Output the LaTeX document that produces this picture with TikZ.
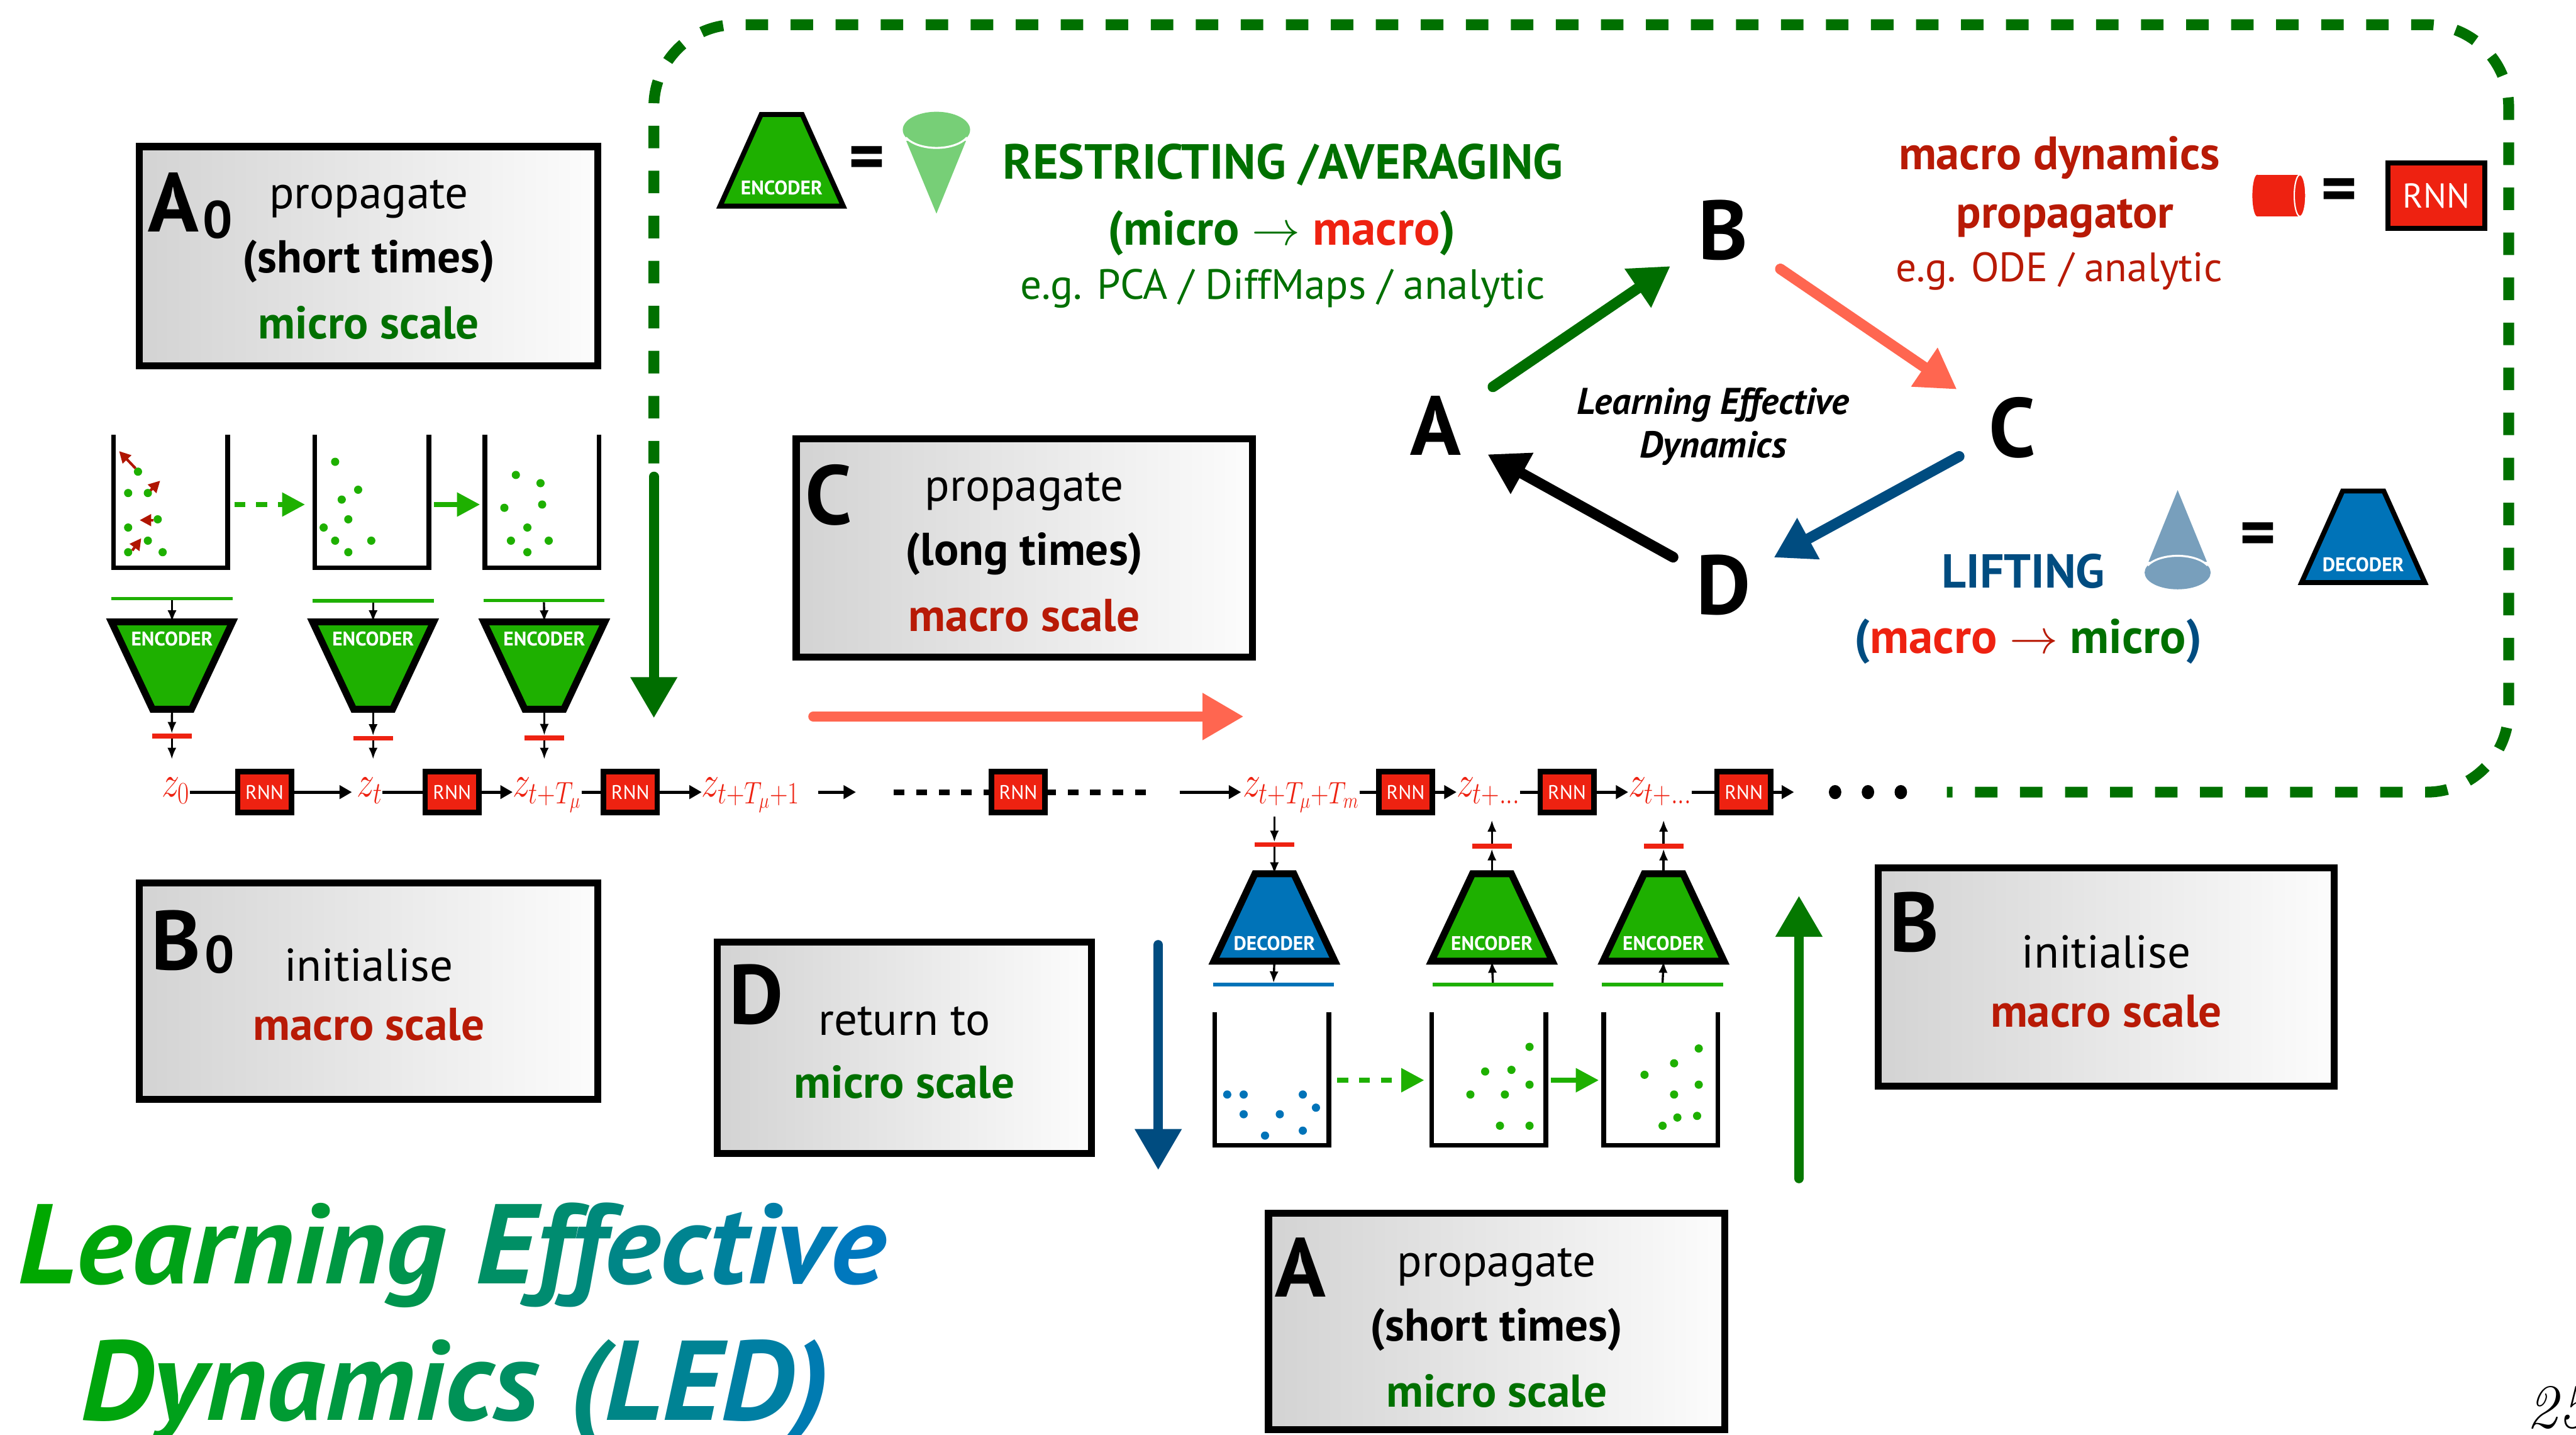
\RequirePackage{fix-cm}
\documentclass[tikz,border=0pt]{standalone}
\usepackage[no-math]{fontspec}
\setmainfont{PT Sans}
\usetikzlibrary{arrows.meta,calc}

\definecolor{dotgreen}{HTML}{1EB000}
\definecolor{txtgreen}{HTML}{007000}
\definecolor{arrgreen}{HTML}{006E00}
\definecolor{rnnred}{HTML}{EE2211}
\definecolor{darkred}{HTML}{B81A06}
\definecolor{velred}{HTML}{B01500}
\definecolor{decblue}{HTML}{0073B8}
\definecolor{liftblue}{HTML}{004C80}
\definecolor{salmon}{HTML}{FF6650}
\definecolor{conegreen}{HTML}{77CF77}
\definecolor{coneblue}{HTML}{789FBC}
\definecolor{boxgray}{HTML}{D3D3D3}
\definecolor{boxwhite}{HTML}{FCFCFC}
\definecolor{titleG}{HTML}{00A800}
\definecolor{titleB}{HTML}{0078BE}

\newcommand\fsz[1]{\fontsize{#1}{#1}\selectfont}
\newcommand\gc[2]{\textcolor{titleB!#1!titleG}{#2}}
\newcommand\zl[1]{\scalebox{0.8}[1]{$#1$}}

% particle box: open-topped container
\newcommand\drawbin[3]{%
  \node[binframe] (#1) at (#2,#3) {};
  \draw[binwall] (#1.north west) -- (#1.south west) -- (#1.south east) -- (#1.north east);
}
% encoder / decoder trapezia
\newcommand\coderWideTop[5]{%
  \node[coderframe] (#1) at (#2,#3) {};
  \filldraw[coderedge, fill=#4] (#1.north west) -- (#1.north east)
     -- ($(#1.south east)+(-25,0)$) -- ($(#1.south west)+(25,0)$) -- cycle;
  \node[codertext] at ($(#1.north)+(0,10.5)$) {#5};
}
\newcommand\coderWideBottom[5]{%
  \node[coderframe] (#1) at (#2,#3) {};
  \filldraw[coderedge, fill=#4] ($(#1.north west)+(25,0)$) -- ($(#1.north east)+(-25,0)$)
     -- (#1.south east) -- (#1.south west) -- cycle;
  \node[codertext] at ($(#1.south)+(0,-11)$) {#5};
}

\begin{document}
\begin{tikzpicture}[x=1pt, y=-1pt,
  every node/.style={inner sep=0pt, outer sep=0pt},
  txt/.style={anchor=base},
  infobox/.style={draw=black, line width=4.3pt, left color=boxgray, right color=boxwhite},
  binframe/.style={minimum width=69.4pt, minimum height=79.6pt},
  binwall/.style={line width=2.8pt, line cap=rect, line join=miter},
  coderframe/.style={minimum width=69.5pt, minimum height=49pt, outer sep=2.1pt},
  coderedge/.style={draw=black, line width=4.2pt, line join=miter},
  codertext/.style={text=white, font=\fsz{12}\bfseries},
  gline/.style={fill=dotgreen, minimum width=73.7pt, minimum height=2.2pt},
  bline/.style={fill=decblue, minimum width=73.7pt, minimum height=2.2pt},
  rbar/.style={fill=rnnred, minimum width=24pt, minimum height=3pt},
  smallarrow/.style={line width=1.3pt, -{Latex[length=7pt,width=5.5pt]}},
  rnn/.style={draw=black, line width=3.3pt, fill=rnnred, text=white, font=\fsz{12},
    minimum width=32.7pt, minimum height=24.8pt},
  zlab/.style={text=rnnred, anchor=base, font=\fsz{27}, text height=12pt, text depth=8pt},
  chainline/.style={line width=2pt},
  chainarrow/.style={line width=2pt, -{Triangle[length=7.5pt,width=8pt]}},
  dotchain/.style={line width=3.5pt, dash pattern=on 6.5pt off 7.2pt},
  binarrow/.style={dotgreen, line width=3.1pt, -{Triangle[length=14pt,width=14pt]}},
  redarrow/.style={velred, line width=1.6pt, -{Triangle[length=7pt,width=7pt]}},
  bigarrow/.style={line width=6pt, line cap=round, -{Triangle[length=25pt,width=27pt]}},
  diagarrow/.style={line width=6.5pt, line cap=round, -{Triangle[length=24pt,width=27pt]}},
  bigletter/.style={anchor=base, font=\fsz{51}\bfseries},
  boxletter/.style={anchor=base west, font=\fsz{51}\bfseries},
  boxsub/.style={anchor=base west, font=\fsz{32}\bfseries},
  boxtext/.style={anchor=base, font=\fsz{28}},
  boxbold/.style={anchor=base, font=\fsz{28}\bfseries},
  eqsign/.style={font=\fsz{42}\bfseries}
]
\useasboundingbox (0,0) rectangle (1568,873);

% ---------------- dashed learning loop ----------------
\draw[txtgreen, line width=6.6pt, dash pattern=on 13.7pt off 13.7pt, rounded corners=50pt]
  (398,282) -- (398,15) -- (1527,15) -- (1527,482) -- (1185,482);

% ---------------- info boxes ----------------
\node[infobox, minimum width=279pt, minimum height=133.4pt] (boxAzero) at (224.25,155.85) {};
\node[boxletter] at (90,141) {A};
\node[boxsub] at (123.5,144.7) {0};
\node[boxtext] at (224.5,127) {propagate};
\node[boxbold] at (224.5,166) {(short times)};
\node[boxbold, text=txtgreen] at (224.5,206) {micro scale};

\node[infobox, minimum width=279pt, minimum height=131.7pt] (boxBzero) at (224.25,603) {};
\node[boxletter] at (92,590) {B};
\node[boxsub] at (124.5,592) {0};
\node[boxtext] at (224.5,597) {initialise};
\node[boxbold, text=darkred] at (224.5,633) {macro scale};

\node[infobox, minimum width=277.7pt, minimum height=132.7pt] (boxC) at (623.5,333.5) {};
\node[boxletter] at (490,319) {C};
\node[boxtext] at (623.5,305) {propagate};
\node[boxbold] at (623.5,344) {(long times)};
\node[boxbold, text=darkred] at (623.5,384) {macro scale};

\node[infobox, minimum width=227.7pt, minimum height=128.7pt] (boxD) at (550.5,637.5) {};
\node[boxletter] at (444,623) {D};
\node[boxtext] at (550.5,630) {return to};
\node[boxbold, text=txtgreen] at (550.5,668) {micro scale};

\node[infobox, minimum width=277.7pt, minimum height=132.7pt] (boxB) at (1282,594.5) {};
\node[boxletter] at (1150,579) {B};
\node[boxtext] at (1282,589) {initialise};
\node[boxbold, text=darkred] at (1282,625) {macro scale};

\node[infobox, minimum width=277.7pt, minimum height=131.7pt] (boxA) at (911,804) {};
\node[boxletter] at (776,789) {A};
\node[boxtext] at (911,777) {propagate};
\node[boxbold] at (911,816) {(short times)};
\node[boxbold, text=txtgreen] at (911,856) {micro scale};

% ---------------- micro particle boxes (top left) ----------------
\drawbin{binA}{103.9}{305.6}
\drawbin{binB}{226.4}{305.6}
\drawbin{binC}{329.9}{305.6}
\foreach \p in {(84,287),(78,300),(90,300),(96,316),(78,321),(90,329),(78,336),(99,336)}
  \fill[dotgreen] \p circle[radius=2.5];
\foreach \p in {(204,281),(218,298),(208,304),(212,316),(197,321),(204,329),(226,329),(212,336)}
  \fill[dotgreen] \p circle[radius=2.5];
\foreach \p in {(314,289),(329,294),(330,307),(307,309),(321,321),(311,329),(334,329),(321,336)}
  \fill[dotgreen] \p circle[radius=2.5];
\draw[redarrow] (82.5,285) -- (72.5,274.5);
\draw[redarrow] (91.5,298.5) -- (97.5,292.5);
\draw[redarrow] (93.5,316.5) -- (85,316.5);
\draw[redarrow] (80.5,335) -- (86,327.5);
\draw[binarrow, dash pattern=on 6.7pt off 6.6pt] ($(binA.east)+(4,1.4)$) -- ($(binB.west)+(-6,1.4)$);
\draw[binarrow] ($(binB.east)+(3,1.4)$) -- ($(binC.west)+(-3,1.4)$);

% encoders on the top row
\node[gline] (glA) at (104.7,364.2) {};
\node[gline] (glB) at (227.1,365.5) {};
\node[gline] (glC) at (331.1,365.4) {};
\coderWideTop{encA}{104.7}{405}{dotgreen}{ENCODER}
\coderWideTop{encB}{227.1}{405}{dotgreen}{ENCODER}
\coderWideTop{encC}{331.3}{405}{dotgreen}{ENCODER}
\node[rbar] (barA) at (104.6,447.8) {};
\node[rbar] (barB) at (227.1,449.2) {};
\node[rbar] (barC) at (331.3,449) {};

% ---------------- latent chain ----------------
\node[zlab] (zzero) at (107,485) {\zl{z_0}};
\node[zlab] (zt) at (225,485) {\zl{z_t}};
\node[zlab] (zT) at (333,485) {\zl{z_{t{+}T_\mu}}};
\node[zlab] (zTone) at (457,485) {\zl{z_{t{+}T_\mu{+}1}}};
\node[zlab] (zTm) at (792,485) {\zl{z_{t{+}T_\mu{+}T_m}}};
\node[zlab] (zdA) at (906,485) {\zl{z_{t{+}\ldots}}};
\node[zlab] (zdB) at (1010.5,485) {\zl{z_{t{+}\ldots}}};

\node[rnn] (rA) at (161,482) {RNN};
\node[rnn] (rB) at (275.2,482) {RNN};
\node[rnn] (rC) at (383.7,482) {RNN};
\node[rnn] (rD) at (619.8,482) {RNN};
\node[rnn] (rE) at (855.6,482) {RNN};
\node[rnn] (rF) at (953.8,482) {RNN};
\node[rnn] (rG) at (1061.4,482) {RNN};

\coordinate (gapAs) at (498,482);
\coordinate (gapAe) at (521,482);
\coordinate (dotAs) at (544,482);
\coordinate (dotBe) at (699,482);
\coordinate (gapBs) at (718,482);
\coordinate (chainEnd) at (1092,482);

\draw[chainline] (zzero.east |- rA) -- (rA.west);
\draw[chainarrow] (rA.east) -- ($(zt.west |- rA)+(-3,0)$);
\draw[chainline] (zt.east |- rB) -- (rB.west);
\draw[chainarrow] (rB.east) -- (zT.west |- rB);
\draw[chainline] (zT.east |- rC) -- (rC.west);
\draw[chainarrow] (rC.east) -- (zTone.west |- rC);
\draw[chainarrow] (gapAs) -- (gapAe);
\draw[dotchain] (dotAs) -- (rD.west);
\draw[dotchain] (rD.east) -- (dotBe);
\draw[chainarrow] (gapBs) -- ($(zTm.west |- rD)+(-1,0)$);
\draw[chainline] (zTm.east |- rE) -- (rE.west);
\draw[chainarrow] (rE.east) -- (zdA.west |- rE);
\draw[chainline] (zdA.east |- rF) -- (rF.west);
\draw[chainarrow] (rF.east) -- (zdB.west |- rF);
\draw[chainline] (zdB.east |- rG) -- (rG.west);
\draw[chainarrow] (rG.east) -- (chainEnd);
\foreach \x in {1117,1137,1157} \fill (\x,482) ellipse[x radius=3.8, y radius=4.3];

% top row arrows into the chain
\draw[smallarrow] (glA.south) -- (encA.north);
\draw[smallarrow] (glB.south) -- (encB.north);
\draw[smallarrow] (glC.south) -- (encC.north);
\draw[smallarrow] (encA.south) -- (barA.north);
\draw[smallarrow] (encB.south) -- (barB.north);
\draw[smallarrow] (encC.south) -- (barC.north);
\draw[smallarrow, shorten >=11pt] (barA.south) -- (barA.south |- zzero.north);
\draw[smallarrow, shorten >=11pt] (barB.south) -- (barB.south |- zt.north);
\draw[smallarrow, shorten >=11pt] (barC.south) -- (barC.south |- zT.north);

% ---------------- bottom row: decoder and encoders ----------------
\node[rbar] (dbarA) at (775.7,513.9) {};
\node[rbar] (dbarB) at (908.1,515) {};
\node[rbar] (dbarC) at (1012.6,515) {};
\coderWideBottom{decA}{775.7}{558.3}{decblue}{DECODER}
\coderWideBottom{encD}{908.1}{558.3}{dotgreen}{ENCODER}
\coderWideBottom{encE}{1012.6}{558.3}{dotgreen}{ENCODER}
\node[bline] (blA) at (775.2,599.2) {};
\node[gline] (glD) at (908.7,599) {};
\node[gline] (glE) at (1012,599) {};

\draw[smallarrow, shorten <=4pt] (decA |- zTm.south) -- (dbarA.north);
\draw[smallarrow] (dbarA.south) -- (decA.north);
\draw[smallarrow] (decA.south) -- (blA.north);
\draw[smallarrow] (glD.north) -- (encD.south);
\draw[smallarrow] (glE.north) -- (encE.south);
\draw[smallarrow] (encD.north) -- (dbarB.south);
\draw[smallarrow] (encE.north) -- (dbarC.south);
\draw[smallarrow, shorten >=6pt] (dbarB.north) -- (encD |- zdA.south);
\draw[smallarrow, shorten >=6pt] (dbarC.north) -- (encE |- zdB.south);

\drawbin{binD}{774.2}{657.1}
\drawbin{binE}{906.2}{657.1}
\drawbin{binF}{1010.9}{657.1}
\foreach \p in {(747,666),(757,666),(793,666),(801,674),(757,678),(779,678),(770,691),(793,688)}
  \fill[decblue] \p circle[radius=2.5];
\foreach \p in {(931,637),(904,652),(920,651),(931,660),(895,666),(916,666),(913,685),(931,685)}
  \fill[dotgreen] \p circle[radius=2.5];
\foreach \p in {(1034,638),(1019,647),(1001,654),(1034,660),(1019,666),(1021,680),(1033,679),(1012,685)}
  \fill[dotgreen] \p circle[radius=2.5];
\draw[binarrow, dash pattern=on 6.7pt off 6.6pt] ($(binD.east)+(5,0.2)$) -- ($(binE.west)+(-4.6,0.2)$);
\draw[binarrow] ($(binE.east)+(3,0.2)$) -- ($(binF.west)+(-3,0.2)$);

% ---------------- big process arrows ----------------
\coordinate (restrictS) at (398,290);
\coordinate (restrictE) at (398,437);
\coordinate (longS) at (495,436);
\coordinate (longE) at (757,436);
\coordinate (liftS) at (705,575);
\coordinate (liftE) at (705,712);
\coordinate (initS) at (1095,717);
\coordinate (initE) at (1095,545);
\draw[bigarrow, arrgreen] (restrictS) -- (restrictE);
\draw[bigarrow, salmon] (longS) -- (longE);
\draw[bigarrow, liftblue] (liftS) -- (liftE);
\draw[bigarrow, arrgreen!85!dotgreen] (initS) -- (initE);

% ---------------- legend: restricting ----------------
\begin{scope}[coderframe/.append style={minimum width=72pt, minimum height=52.7pt, outer sep=1.5pt},
              coderedge/.append style={line width=3pt}]
  \coderWideBottom{encIcon}{475.8}{97.55}{dotgreen}{ENCODER}
  \coderWideBottom{decIcon}{1438.45}{326.6}{decblue}{DECODER}
\end{scope}
\node[eqsign] (eqA) at (527.5,99.4) {=};
\fill[conegreen] (551.6,85.7) -- (570,130) -- (588,85.7) -- cycle;
\fill[conegreen] (570,79) ellipse[x radius=20.5, y radius=11];
\draw[white, line width=1.2pt] ([shift={(25:20.5 and 11)}]570,79) arc[start angle=25, end angle=155, x radius=20.5, y radius=11];

\node[txt, text=txtgreen, font=\fsz{30}\bfseries] at (781,108.9) {RESTRICTING /AVERAGING};
\node[txt, font=\fsz{29.5}\bfseries] at (780.2,149)
  {\textcolor{txtgreen}{(micro \ensuremath{\rightarrow}} \textcolor{rnnred}{macro}\textcolor{txtgreen}{)}};
\node[txt, text=txtgreen, font=\fsz{25.7}] at (780.8,182.2) {e.g. PCA / DiffMaps / analytic};

% ---------------- legend: propagator ----------------
\node[txt, text=darkred, font=\fsz{28.5}\bfseries] at (1253.5,103) {macro dynamics};
\node[txt, text=darkred, font=\fsz{28}\bfseries] at (1257,138.8) {propagator};
\node[txt, text=darkred, font=\fsz{25}] at (1253.4,171.2) {e.g. ODE / analytic};
\fill[rnnred] (1374,106.3) rectangle (1400,131.7);
\fill[rnnred] (1374,119) ellipse[x radius=3, y radius=12.7];
\filldraw[rnnred, draw=white, line width=0.8pt] (1400,119) ellipse[x radius=3.5, y radius=12.7];
\node[eqsign] (eqB) at (1424,119) {=};
\node[rnn, minimum width=58.9pt, minimum height=39.8pt, line width=3.2pt, font=\fsz{21}] (rnnIcon) at (1483,119) {RNN};

% ---------------- legend: lifting ----------------
\node[txt, text=liftblue, font=\fsz{29}\bfseries] at (1231.6,357.6) {LIFTING};
\fill[coneblue] (1307.8,341.8) -- (1325.5,298.2) -- (1343.3,341.8) -- cycle;
\fill[coneblue] (1325.5,348.4) ellipse[x radius=20.1, y radius=10.2];
\draw[white, line width=1.2pt] ([shift={(205:20.1 and 10.2)}]1325.5,348.4) arc[start angle=205, end angle=335, x radius=20.1, y radius=10.2];
\node[eqsign] (eqC) at (1374.6,328.4) {=};
\node[txt, font=\fsz{29.5}\bfseries] at (1234.5,397.6)
  {\textcolor{liftblue}{(}\textcolor{rnnred}{macro} \textcolor{darkred}{\ensuremath{\rightarrow}} \textcolor{txtgreen}{micro}\textcolor{liftblue}{)}};

% ---------------- LED cycle ----------------
\node[bigletter] (lA) at (874,277) {A};
\node[bigletter] (lB) at (1049,158) {B};
\node[bigletter] (lC) at (1225,278) {C};
\node[bigletter] (lD) at (1049,374) {D};
\coordinate (cA) at (874,259);
\coordinate (cB) at (1049,140);
\coordinate (cC) at (1225,260);
\coordinate (cD) at (1049,356);
\draw[diagarrow, arrgreen] ($(cA)!42pt!(cB)$) -- ($(cB)!39pt!(cA)$);
\draw[diagarrow, salmon] ($(cB)!42pt!(cC)$) -- ($(cC)!41pt!(cB)$);
\draw[diagarrow, liftblue] ($(cC)!37pt!(cD)$) -- ($(cD)!35pt!(cC)$);
\draw[diagarrow, black] ($(cD)!35pt!(cA)$) -- ($(cA)!36pt!(cD)$);
\node[txt, font=\fsz{22.7}\bfseries\itshape] at (1042.7,252.1) {Learning Effective};
\node[txt, font=\fsz{22.7}\bfseries\itshape] at (1042.7,278.6) {Dynamics};

% ---------------- title ----------------
\node[anchor=base west, font=\fsz{69}\bfseries\itshape] (titleA) at (11,781)
  {\scalebox{1.045}[1]{\gc{0}{L}\gc{6}{e}\gc{12}{a}\gc{18}{r}\gc{24}{n}\gc{29}{i}\gc{35}{n}\gc{41}{g} \gc{53}{E}\gc{59}{f}\gc{65}{f}\gc{71}{e}\gc{76}{c}\gc{82}{t}\gc{88}{i}\gc{94}{v}\gc{100}{e}}};
\node[anchor=base west, font=\fsz{69}\bfseries\itshape] (titleB) at (49,864)
  {\scalebox{1.03}[1]{\gc{7}{D}\gc{14}{y}\gc{20}{n}\gc{27}{a}\gc{34}{m}\gc{40}{i}\gc{46}{c}\gc{52}{s} \gc{64}{(}\gc{71}{L}\gc{78}{E}\gc{86}{D}\gc{93}{)}}};

% page number
\node[anchor=base west, font=\fsz{38}] (pageno) at (1538,868.6) {$\mathit{25}$};
\end{tikzpicture}
\end{document}
